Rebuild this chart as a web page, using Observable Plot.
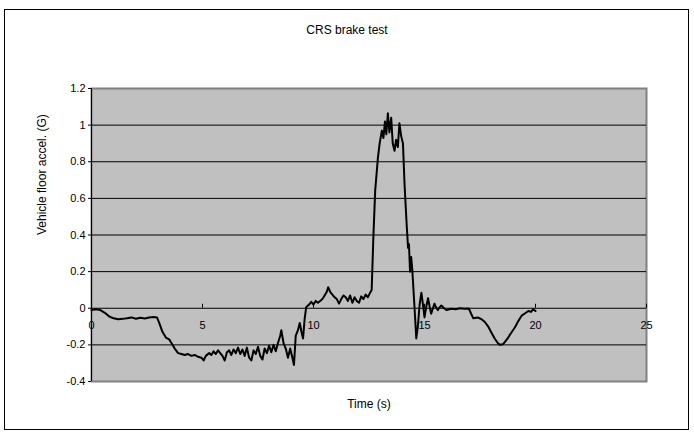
<!DOCTYPE html>
<html>
<head>
<meta charset="utf-8">
<script src="https://cdn.jsdelivr.net/npm/d3@7"></script>
<script src="https://cdn.jsdelivr.net/npm/@observablehq/plot@0.6"></script>
<style>
  html, body { margin: 0; padding: 0; background: #fff; }
  #wrap { position: relative; width: 694px; height: 436px; font-family: "Liberation Sans", Arial, sans-serif; }
  #border { position: absolute; left: 4px; top: 9px; width: 685px; height: 421px; border: 1px solid #000; box-sizing: border-box; pointer-events: none; }
  #title { position: absolute; left: 0; width: 694px; top: 23px; text-align: center; font-size: 12px; color: #000; }
  #chart { position: absolute; left: 0; top: 0; }
</style>
</head>
<body>
<div id="wrap">
  <div id="chart"></div>
  <div id="border"></div>
  <div id="title">CRS brake test</div>
</div>
<script>
const time = [0,0.2,0.4,0.6,0.8,1.0,1.2,1.4,1.6,1.8,2.0,2.2,2.4,2.6,2.8,2.95,3.05,3.2,3.35,3.5,3.6,3.75,3.9,4.05,4.2,4.35,4.5,4.65,4.8,4.95,5.05,5.15,5.3,5.4,5.5,5.6,5.7,5.8,5.9,6.0,6.1,6.2,6.3,6.4,6.5,6.6,6.7,6.8,6.9,7.0,7.1,7.2,7.3,7.4,7.5,7.6,7.7,7.8,7.9,8.0,8.1,8.2,8.3,8.4,8.5,8.55,8.65,8.75,8.85,8.95,9.05,9.12,9.2,9.3,9.38,9.46,9.53,9.6,9.67,9.8,9.9,10.0,10.1,10.2,10.3,10.4,10.5,10.6,10.66,10.75,10.85,10.95,11.05,11.15,11.25,11.35,11.45,11.55,11.65,11.75,11.85,11.95,12.05,12.15,12.25,12.35,12.45,12.55,12.62,12.7,12.78,12.9,12.98,13.08,13.15,13.22,13.28,13.35,13.42,13.5,13.57,13.65,13.72,13.8,13.87,13.95,14.03,14.1,14.2,14.26,14.3,14.35,14.4,14.45,14.55,14.63,14.7,14.78,14.86,14.93,15.0,15.08,15.16,15.23,15.3,15.38,15.45,15.52,15.6,15.68,15.76,15.88,16.0,16.2,16.4,16.6,16.8,17.0,17.1,17.2,17.4,17.57,17.72,17.87,18.0,18.16,18.3,18.4,18.55,18.65,18.77,18.9,19.07,19.2,19.38,19.5,19.68,19.8,19.9,20.0];
const accel = [-0.01,-0.005,-0.01,-0.025,-0.045,-0.055,-0.06,-0.058,-0.055,-0.05,-0.057,-0.052,-0.056,-0.05,-0.048,-0.05,-0.08,-0.13,-0.16,-0.17,-0.19,-0.22,-0.245,-0.25,-0.255,-0.25,-0.26,-0.255,-0.265,-0.27,-0.285,-0.26,-0.245,-0.255,-0.235,-0.25,-0.23,-0.245,-0.26,-0.285,-0.24,-0.23,-0.255,-0.225,-0.245,-0.215,-0.25,-0.225,-0.26,-0.215,-0.27,-0.285,-0.23,-0.25,-0.21,-0.26,-0.28,-0.22,-0.245,-0.205,-0.24,-0.2,-0.235,-0.19,-0.15,-0.12,-0.19,-0.22,-0.27,-0.22,-0.27,-0.31,-0.15,-0.12,-0.08,-0.13,-0.165,-0.06,0.005,0.02,0.035,0.02,0.04,0.03,0.04,0.05,0.07,0.09,0.115,0.09,0.075,0.06,0.05,0.025,0.05,0.07,0.06,0.04,0.07,0.03,0.06,0.04,0.03,0.065,0.05,0.075,0.06,0.085,0.1,0.4,0.645,0.82,0.9,0.97,0.93,1.02,0.95,1.065,0.96,1.04,0.9,0.86,0.92,0.88,1.01,0.94,0.9,0.68,0.45,0.33,0.35,0.2,0.28,0.21,0.005,-0.165,-0.1,0.02,0.085,0.02,-0.05,0.01,0.055,0.01,-0.03,0.0,0.025,0.005,-0.01,0.005,0.015,0.0,-0.01,-0.003,-0.005,0.0,-0.003,-0.002,-0.03,-0.055,-0.05,-0.06,-0.075,-0.1,-0.13,-0.165,-0.19,-0.2,-0.195,-0.18,-0.16,-0.135,-0.105,-0.075,-0.04,-0.03,-0.015,-0.02,-0.005,-0.015];
const xTicks = [0, 5, 10, 15, 20, 25];
const yTicks = [-0.4, -0.2, 0, 0.2, 0.4, 0.6, 0.8, 1, 1.2];
const xLabel = "Time (s)";
const yLabel = "Vehicle floor accel. (G)";

const data = time.map((t, i) => ({t, a: accel[i]}));
const fmt = d => String(+d.toFixed(1));

const chart = Plot.plot({
  width: 694,
  height: 436,
  marginLeft: 91,
  marginRight: 48,
  marginTop: 88,
  marginBottom: 55,
  style: {fontFamily: "Liberation Sans, Arial, sans-serif", fontSize: "11px", background: "transparent", color: "#000"},
  x: {domain: [0, 25], axis: null},
  y: {domain: [-0.4, 1.2]},
  marks: [
    Plot.frame({fill: "#c0c0c0", stroke: "#808080", strokeWidth: 2}),
    Plot.ruleY(yTicks.filter(d => d > -0.4 && d < 1.2), {y: d => d, stroke: "#000", strokeWidth: 1}),
    Plot.axisY({ticks: yTicks, tickFormat: fmt, tickSize: 3, tickPadding: 3, label: null, fontSize: 11}),
    Plot.ruleX([0], {stroke: "#000", strokeWidth: 1}),
    Plot.ruleX(xTicks, {x: d => d, y1: 0, y2: 0.022, stroke: "#000", strokeWidth: 1}),
    Plot.text(xTicks, {x: d => d, y: 0, dy: 17, text: d => String(d), fontSize: 11, fill: "#000"}),
    Plot.line(data, {x: "t", y: "a", stroke: "#000", strokeWidth: 2, strokeLinejoin: "round"}),
    Plot.text([xLabel], {frameAnchor: "bottom", dy: 26, text: d => d, fontSize: 12, fill: "#000"}),
    Plot.text([yLabel], {frameAnchor: "left", dx: -49, rotate: -90, text: d => d, fontSize: 12, fill: "#000"})
  ]
});
document.getElementById("chart").appendChild(chart);
</script>
</body>
</html>
